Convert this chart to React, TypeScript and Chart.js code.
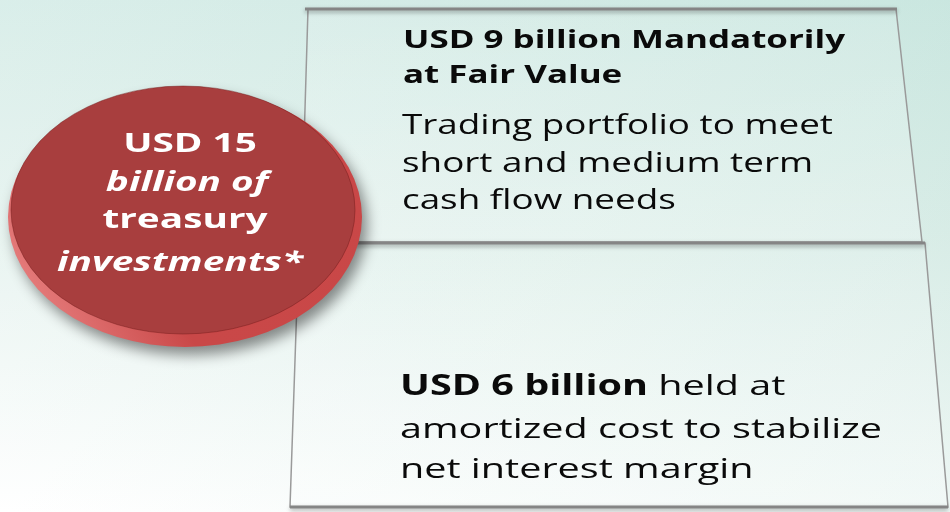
import React, { useEffect, useRef } from "react";
import { Chart, registerables } from "chart.js";
Chart.register(...registerables);

// ---- data ----
const TOTAL_BILLIONS = [15];
const SEGMENT_BILLIONS = [9, 6];
const CIRCLE_LINES = [`USD ${TOTAL_BILLIONS[0]}`, "billion of", "treasury", "investments*"];
const CIRCLE_ITALIC = [false, true, false, true];
const TOP_HEAD_LINES = [`USD ${SEGMENT_BILLIONS[0]} billion Mandatorily`, "at Fair Value"];
const TOP_BODY_LINES = ["Trading portfolio to meet", "short and medium term", "cash flow needs"];
const BOTTOM_BOLD = `USD ${SEGMENT_BILLIONS[1]} billion`;
const BOTTOM_LINES = [" held at", "amortized cost to stabilize", "net interest margin"];

const W = 950;
const H = 512;
const FONT = "'Open Sans', Lato, sans-serif";

function fontStr(style: string, weight: string, size: number) {
  return `${style} ${weight} ${size}px ${FONT}`;
}

function scaleFor(ctx: CanvasRenderingContext2D, text: string, font: string, target: number) {
  ctx.font = font;
  return target / ctx.measureText(text).width;
}

function drawScaled(ctx: CanvasRenderingContext2D, text: string, x: number, y: number, sx: number) {
  ctx.save();
  ctx.translate(x, y);
  ctx.scale(sx, 1);
  ctx.fillText(text, 0, 0);
  ctx.restore();
}

const infographic = {
  id: "infographic",
  afterDraw(chart: any) {
    const ctx: CanvasRenderingContext2D = chart.ctx;
    const xs = chart.scales.x;
    const ys = chart.scales.y;
    const px = (v: number) => xs.getPixelForValue(v);
    const py = (v: number) => ys.getPixelForValue(v);

    ctx.save();
    // background
    const bg = ctx.createLinearGradient(0, py(0), 0, py(H));
    bg.addColorStop(0, "#d3ebe6");
    bg.addColorStop(0.45, "#e4f2ee");
    bg.addColorStop(1, "#ffffff");
    ctx.fillStyle = bg;
    ctx.fillRect(px(0), py(0), px(W) - px(0), py(H) - py(0));
    const bg2 = ctx.createLinearGradient(px(0), 0, px(W), 0);
    bg2.addColorStop(0, "rgba(255,255,255,0.15)");
    bg2.addColorStop(1, "rgba(160,210,195,0.18)");
    ctx.fillStyle = bg2;
    ctx.fillRect(px(0), py(0), px(W) - px(0), py(H) - py(0));

    // boxes
    const boxes = [
      [[308, 9], [896, 9], [922, 242], [301, 242]],
      [[299, 243], [925, 243], [948, 507], [290, 507]],
    ];
    boxes.forEach((b) => {
      ctx.beginPath();
      ctx.moveTo(px(b[0][0]), py(b[0][1]));
      for (let i = 1; i < 4; i++) ctx.lineTo(px(b[i][0]), py(b[i][1]));
      ctx.closePath();
      const g = ctx.createLinearGradient(0, py(b[0][1]), 0, py(b[2][1]));
      g.addColorStop(0, "rgba(255,255,255,0.12)");
      g.addColorStop(1, "rgba(255,255,255,0.25)");
      ctx.fillStyle = g;
      ctx.fill();
      ctx.strokeStyle = "#9a9a9a";
      ctx.lineWidth = 1.5;
      ctx.stroke();
    });
    const edges = [
      [305, 9, 897, 9],
      [298, 243, 925, 243],
      [290, 507, 948, 507],
    ];
    edges.forEach((e) => {
      ctx.save();
      ctx.shadowColor = "rgba(0,0,0,0.35)";
      ctx.shadowBlur = 4;
      ctx.shadowOffsetY = 2;
      ctx.strokeStyle = "#858585";
      ctx.lineWidth = 3;
      ctx.beginPath();
      ctx.moveTo(px(e[0]), py(e[1]));
      ctx.lineTo(px(e[2]), py(e[3]));
      ctx.stroke();
      ctx.restore();
    });

    // ellipse rim with shadow
    ctx.save();
    ctx.shadowColor = "rgba(0,0,0,0.45)";
    ctx.shadowBlur = 14;
    ctx.shadowOffsetX = 5;
    ctx.shadowOffsetY = 8;
    const rim = ctx.createLinearGradient(px(40), py(330), px(360), py(150));
    rim.addColorStop(0, "#e77f7f");
    rim.addColorStop(0.35, "#c94848");
    rim.addColorStop(1, "#c94747");
    ctx.fillStyle = rim;
    ctx.beginPath();
    ctx.ellipse(px(185), py(217), 177, 130, 0, 0, Math.PI * 2);
    ctx.fill();
    ctx.restore();

    // face
    ctx.fillStyle = "#a83e3e";
    ctx.beginPath();
    ctx.ellipse(px(183), py(210), 172, 124, 0, 0, Math.PI * 2);
    ctx.fill();
    ctx.strokeStyle = "rgba(110,25,25,0.45)";
    ctx.lineWidth = 1;
    ctx.stroke();

    ctx.textBaseline = "alphabetic";

    // circle text
    const cSize = 26;
    const cScale = scaleFor(ctx, CIRCLE_LINES[3], fontStr("italic", "bold", cSize), 246);
    const circleBase = [152, 191, 228, 271];
    const circleCx = [190, 187, 185, 180];
    ctx.fillStyle = "#ffffff";
    ctx.textAlign = "center";
    CIRCLE_LINES.forEach((t, i) => {
      ctx.font = fontStr(CIRCLE_ITALIC[i] ? "italic" : "normal", "bold", cSize);
      drawScaled(ctx, t, px(circleCx[i]), py(circleBase[i]), cScale);
    });

    // top box text
    ctx.textAlign = "left";
    ctx.fillStyle = "#0a0a0a";
    const hSize = 25;
    const hFont = fontStr("normal", "bold", hSize);
    const hScale = scaleFor(ctx, TOP_HEAD_LINES[0], hFont, 442);
    ctx.font = hFont;
    [48, 83].forEach((b, i) => drawScaled(ctx, TOP_HEAD_LINES[i], px(403), py(b), hScale));

    const bSize = 27;
    const bFont = fontStr("normal", "normal", bSize);
    const bScale = scaleFor(ctx, TOP_BODY_LINES[0], bFont, 431);
    ctx.font = bFont;
    [134, 172, 209].forEach((b, i) => drawScaled(ctx, TOP_BODY_LINES[i], px(402), py(b), bScale));

    // bottom box text
    const lSize = 28;
    const lFont = fontStr("normal", "normal", lSize);
    const lBold = fontStr("normal", "bold", lSize);
    const lScale = scaleFor(ctx, BOTTOM_LINES[1], lFont, 482);
    ctx.font = lBold;
    drawScaled(ctx, BOTTOM_BOLD, px(400), py(395), lScale);
    const bw = ctx.measureText(BOTTOM_BOLD).width * lScale;
    ctx.font = lFont;
    drawScaled(ctx, BOTTOM_LINES[0], px(400) + bw, py(395), lScale);
    drawScaled(ctx, BOTTOM_LINES[1], px(400), py(438), lScale);
    drawScaled(ctx, BOTTOM_LINES[2], px(400), py(478), lScale);

    ctx.restore();
  },
};

export default function App() {
  const ref = useRef<HTMLCanvasElement | null>(null);
  useEffect(() => {
    document.body.style.margin = "0";
    if (!ref.current) return;
    const chart = new Chart(ref.current, {
      type: "scatter",
      data: { datasets: [{ data: [] }] },
      options: {
        animation: false,
        responsive: false,
        events: [],
        layout: { padding: 0 },
        plugins: { legend: { display: false }, tooltip: { enabled: false } },
        scales: {
          x: { type: "linear", min: 0, max: W, display: false },
          y: { type: "linear", min: 0, max: H, reverse: true, display: false },
        },
      },
      plugins: [infographic],
    });
    return () => chart.destroy();
  }, []);
  return (
    <div style={{ position: "fixed", left: 0, top: 0, width: W, height: H }}>
      <canvas ref={ref} width={W} height={H} style={{ display: "block" }} />
    </div>
  );
}
